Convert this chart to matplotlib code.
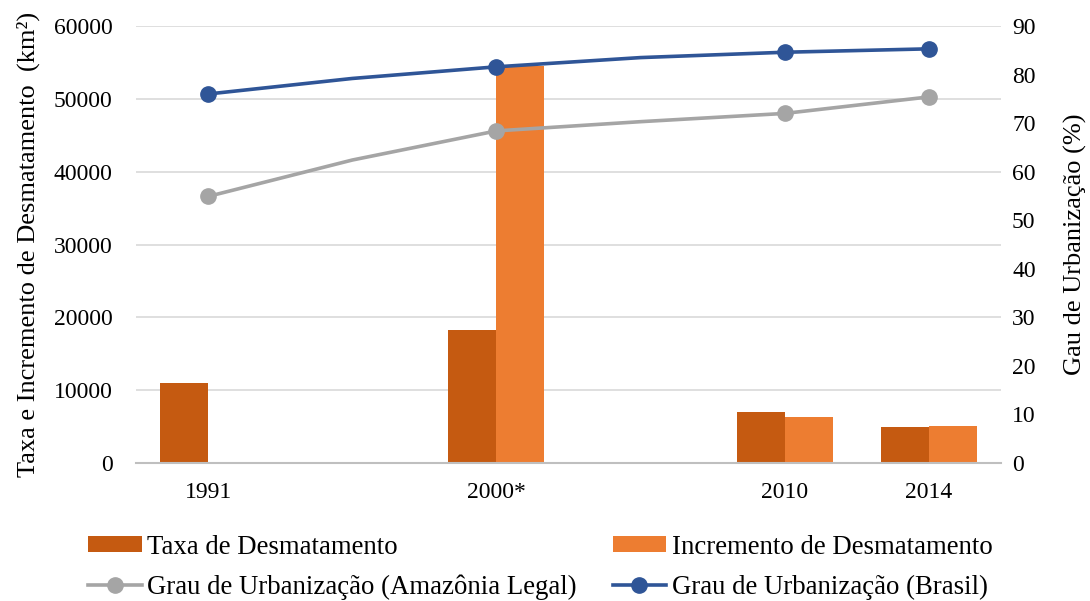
import matplotlib.pyplot as plt
import numpy as np

plt.rcParams['font.family'] = ['Liberation Serif', 'DejaVu Serif']

# category slots (the unlabeled ones only carry line points)
labels = ['1991', '', '2000*', '', '2010', '2014']
taxa = [11030, np.nan, 18226, np.nan, 7000, 5012]
incremento = [np.nan, np.nan, 54500, np.nan, 6280, 5090]
urb_amazonia = [54.9, 62.4, 68.4, 70.3, 72.0, 75.4]
urb_brasil = [76.0, 79.2, 81.6, 83.5, 84.6, 85.3]
marked = [0, 2, 4, 5]

c_taxa = '#C55A11'
c_incr = '#ED7D31'
c_gray = '#A5A5A5'
c_blue = '#2F5597'

fig = plt.figure(figsize=(10.9, 6.01), dpi=100)
ax = fig.add_axes([0.1248, 0.2296, 0.7935, 0.7271])
ax2 = ax.twinx()

x = np.arange(len(labels))
w = 0.333
b1 = ax.bar(x - w / 2, taxa, w, color=c_taxa, label='Taxa de Desmatamento', zorder=2)
b2 = ax.bar(x + w / 2, incremento, w, color=c_incr, label='Incremento de Desmatamento', zorder=2)

l1, = ax2.plot(x, urb_amazonia, color=c_gray, lw=2.6, marker='o', markersize=11,
               markevery=marked, label='Grau de Urbanização (Amazônia Legal)')
l2, = ax2.plot(x, urb_brasil, color=c_blue, lw=2.6, marker='o', markersize=11,
               markevery=marked, label='Grau de Urbanização (Brasil)')

ax.set_xlim(-0.5, len(labels) - 0.5)
ax.set_ylim(0, 60000)
ax.set_yticks(np.arange(0, 60001, 10000))
ax2.set_ylim(0, 90)
ax2.set_yticks(np.arange(0, 91, 10))
ax.set_xticks(x)
ax.set_xticklabels(labels)

ax.grid(axis='y', color='#D9D9D9', lw=1.2, zorder=0)
ax.set_axisbelow(True)
for a in (ax, ax2):
    for s in a.spines.values():
        s.set_visible(False)
ax.spines['bottom'].set_visible(True)
ax.spines['bottom'].set_color('#BFBFBF')
ax.spines['bottom'].set_linewidth(1.5)

ax.tick_params(axis='both', length=0, labelsize=17)
ax.tick_params(axis='y', pad=17)
ax.tick_params(axis='x', pad=14)
ax2.tick_params(axis='y', length=0, labelsize=17, pad=8)

ax.set_ylabel('Taxa e Incremento de Desmatamento  (km²)', fontsize=19, labelpad=10)
ax2.set_ylabel('Gau de Urbanização (%)', fontsize=19, labelpad=20)

fig.legend([b1, l1, b2, l2],
           ['Taxa de Desmatamento', 'Grau de Urbanização (Amazônia Legal)',
            'Incremento de Desmatamento', 'Grau de Urbanização (Brasil)'],
           ncol=2, loc='upper left', bbox_to_anchor=(0.0807, 0.11),
           frameon=False, fontsize=19.3, handlelength=2.0, handleheight=0.55,
           handletextpad=0.2, columnspacing=1.35, labelspacing=0.55,
           borderpad=0, borderaxespad=0)

fig.savefig('out.png', dpi=100)
